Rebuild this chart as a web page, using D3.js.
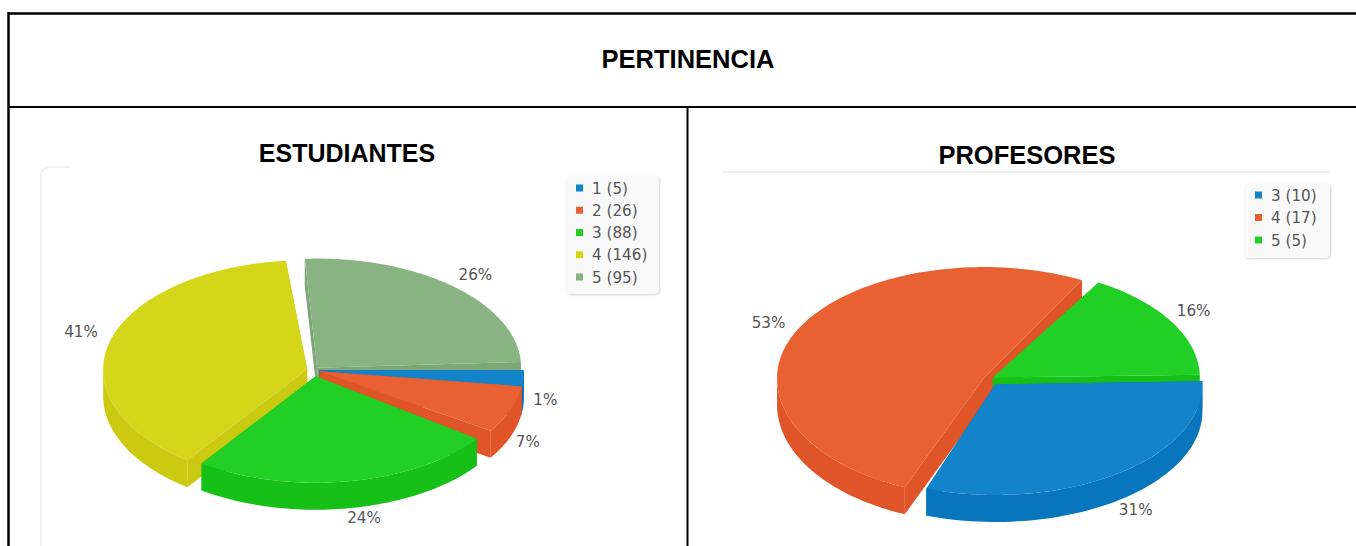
<!DOCTYPE html>
<html>
<head>
<meta charset="utf-8">
<style>
  html, body { margin: 0; padding: 0; background: #fff; overflow: hidden; }
  svg { display: block; }
  .head { font-family: "Liberation Sans", Arial, sans-serif; font-weight: bold; fill: #000; text-anchor: middle; }
  .lbl { font-family: "DejaVu Sans", sans-serif; font-size: 16px; fill: #555; }
</style>
</head>
<body>
<svg id="chart" width="1356" height="546"></svg>
<script src="https://cdn.jsdelivr.net/npm/d3@7/dist/d3.min.js"></script>
<script>
// ── DATA ─────────────────────────────────────────────────────
const mainTitle = 'PERTINENCIA';

const estTitle = 'ESTUDIANTES';
const estCats = ['1', '2', '3', '4', '5'];
const estValues = [5, 26, 88, 146, 95];

const profTitle = 'PROFESORES';
const profCats = ['3', '4', '5'];
const profValues = [10, 17, 5];

// ── STYLE ────────────────────────────────────────────────────
const BLUE   = { top: '#1383CA', wall: '#0776BC' };
const ORANGE = { top: '#E96132', wall: '#DF5528' };
const GREEN  = { top: '#22CF24', wall: '#16C016' };
const YELLOW = { top: '#D5D51A', wall: '#CBCA10' };
const SAGE   = { top: '#8AB384', wall: '#7FA678' };

const TILT = 0.535;   // ellipse squash
const DEPTH = 27;
const RAD = Math.PI / 180;

const svg = d3.select('#chart');

const defs = svg.append('defs');
defs.append('filter').attr('id', 'shadow')
  .attr('x', '-10%').attr('y', '-10%').attr('width', '125%').attr('height', '125%')
  .append('feDropShadow')
  .attr('dx', 1).attr('dy', 1).attr('stdDeviation', 1)
  .attr('flood-color', '#000').attr('flood-opacity', 0.18);

// ── FAINT CHART FRAMES ───────────────────────────────────────
svg.append('path')
  .attr('d', 'M41,546V176Q41,167 50,167H70')
  .attr('fill', 'none').attr('stroke', '#f0f0f0').attr('stroke-width', 2);
svg.append('line')
  .attr('x1', 722).attr('x2', 1331).attr('y1', 172).attr('y2', 172)
  .attr('stroke', '#f0f0f0').attr('stroke-width', 2);

// ── PIE ──────────────────────────────────────────────────────
function drawPie(cfg) {
  const g = svg.append('g');
  const pie = d3.pie().sort(null)
    .startAngle(cfg.start * RAD)
    .endAngle((cfg.start + 360) * RAD);
  const arcs = pie(cfg.values);
  const total = d3.sum(cfg.values);
  const line = d3.line();

  cfg.order.forEach(i => {
    const d = arcs[i];
    const c = cfg.colors[i];
    const mid = (d.startAngle + d.endAngle) / 2;
    const ox = cfg.cx + cfg.explode[i] * Math.sin(mid);
    const oy = cfg.cy - cfg.explode[i] * Math.cos(mid) * TILT;
    const s = g.append('g').attr('transform', `translate(${ox},${oy})`);

    // the source drawing is a little out of true, so each slice gets its own nudge
    const a0 = d.startAngle + cfg.trim[i][0] * RAD;
    const a1 = d.endAngle + cfg.trim[i][1] * RAD;
    const r = cfg.r[i];
    const fk = cfg.front[i];
    const px = a => r * Math.sin(a);
    const py = a => -r * Math.cos(a) * TILT * (Math.cos(a) < 0 ? fk : 1);

    // cut faces
    [a0, a1].forEach(a => {
      s.append('path')
        .attr('d', line([[0, 0], [px(a), py(a)], [px(a), py(a) + DEPTH], [0, DEPTH]]) + 'Z')
        .attr('fill', c.wall);
    });

    // outer wall, only the part of the rim that faces the viewer
    const from = Math.max(a0, 90 * RAD);
    const to = Math.min(a1, 270 * RAD);
    if (to > from) {
      const steps = d3.range(0, 61).map(t => from + (to - from) * t / 60);
      const rim = steps.map(a => [px(a), py(a)]);
      const low = steps.slice().reverse().map(a => [px(a), py(a) + DEPTH]);
      s.append('path').attr('d', line(rim.concat(low)) + 'Z').attr('fill', c.wall);
    }

    // top
    const topRim = d3.range(0, 121).map(t => {
      const a = a0 + (a1 - a0) * t / 120;
      return [px(a), py(a)];
    });
    s.append('path').attr('d', line([[0, 0]].concat(topRim)) + 'Z').attr('fill', c.top);
  });

  // percent labels
  arcs.forEach((d, i) => {
    const mid = (d.startAngle + d.endAngle) / 2;
    const front = Math.cos(mid) < 0;
    const lx = cfg.cx + 236 * Math.sin(mid) + cfg.nudge[i][0];
    const ly = cfg.cy + 5 - 136 * Math.cos(mid) + (front ? 20 : 0) + cfg.nudge[i][1];
    g.append('text').attr('class', 'lbl')
      .attr('text-anchor', 'middle')
      .attr('transform', `translate(${lx},${ly}) scale(0.95,1)`)
      .text(Math.round(d.value / total * 100) + '%');
  });

  // legend
  const leg = cfg.legend;
  const rowY = d3.scalePoint().domain(cfg.cats).range([leg.y0, leg.y1]);
  g.append('rect')
    .attr('x', leg.x).attr('y', leg.y).attr('width', leg.w).attr('height', leg.h)
    .attr('rx', 5).attr('fill', '#f9f9f9').attr('filter', 'url(#shadow)');
  cfg.cats.forEach((cat, i) => {
    g.append('rect')
      .attr('x', leg.x + 11).attr('y', rowY(cat) - 3.5)
      .attr('width', 7).attr('height', 7)
      .attr('fill', cfg.colors[i].top);
    g.append('text').attr('class', 'lbl')
      .attr('transform', `translate(${leg.x + 27},${rowY(cat) + 5.5}) scale(0.95,1)`)
      .text(`${cat} (${cfg.values[i]})`);
  });
}

drawPie({
  values: estValues, cats: estCats,
  colors: [BLUE, ORANGE, GREEN, YELLOW, SAGE],
  cx: 313, cy: 370, start: 92,
  r: [205, 204, 199, 204, 204],
  front: [1, 1, 1, 1.03, 1],
  explode: [6, 7, 12, 6, 6],
  trim: [[-2, 3], [1, 0], [3, 4], [5, -3], [-0.5, -5]],
  nudge: [[-3, -1], [-7, 5], [-2, -5], [-3, -5], [-3, 2]],
  order: [4, 0, 1, 3, 2],
  legend: { x: 565, y: 176, w: 94, h: 118, y0: 188, y1: 277 }
});

drawPie({
  values: profValues, cats: profCats,
  colors: [BLUE, ORANGE, GREEN],
  cx: 988.5, cy: 379, start: 88.5,
  r: [207, 207, 207],
  front: [1, 1.07, 1],
  explode: [12, 5, 5],
  trim: [[0, -1.5], [1.5, -4], [-1.5, 0]],
  nudge: [[11, 0], [-9, 5], [0, -1]],
  order: [1, 2, 0],
  legend: { x: 1244, y: 183, w: 86, h: 75, y0: 195, y1: 240 }
});

// ── TABLE LINES AND HEADINGS ─────────────────────────────────
const rules = [
  [8, 13.5, 1356, 13.5, 2.5],
  [8.5, 12, 8.5, 546, 2.5],
  [8, 107, 1356, 107, 2],
  [687.5, 107, 687.5, 546, 2]
];
svg.append('g').selectAll('line').data(rules).join('line')
  .attr('x1', d => d[0]).attr('y1', d => d[1])
  .attr('x2', d => d[2]).attr('y2', d => d[3])
  .attr('stroke', '#000').attr('stroke-width', d => d[4]);

svg.append('text').attr('class', 'head').attr('x', 688).attr('y', 68)
  .attr('font-size', 25.5).text(mainTitle);
svg.append('text').attr('class', 'head').attr('x', 347).attr('y', 162)
  .attr('font-size', 25).text(estTitle);
svg.append('text').attr('class', 'head').attr('x', 1027).attr('y', 164)
  .attr('font-size', 25.5).text(profTitle);
</script>
</body>
</html>
